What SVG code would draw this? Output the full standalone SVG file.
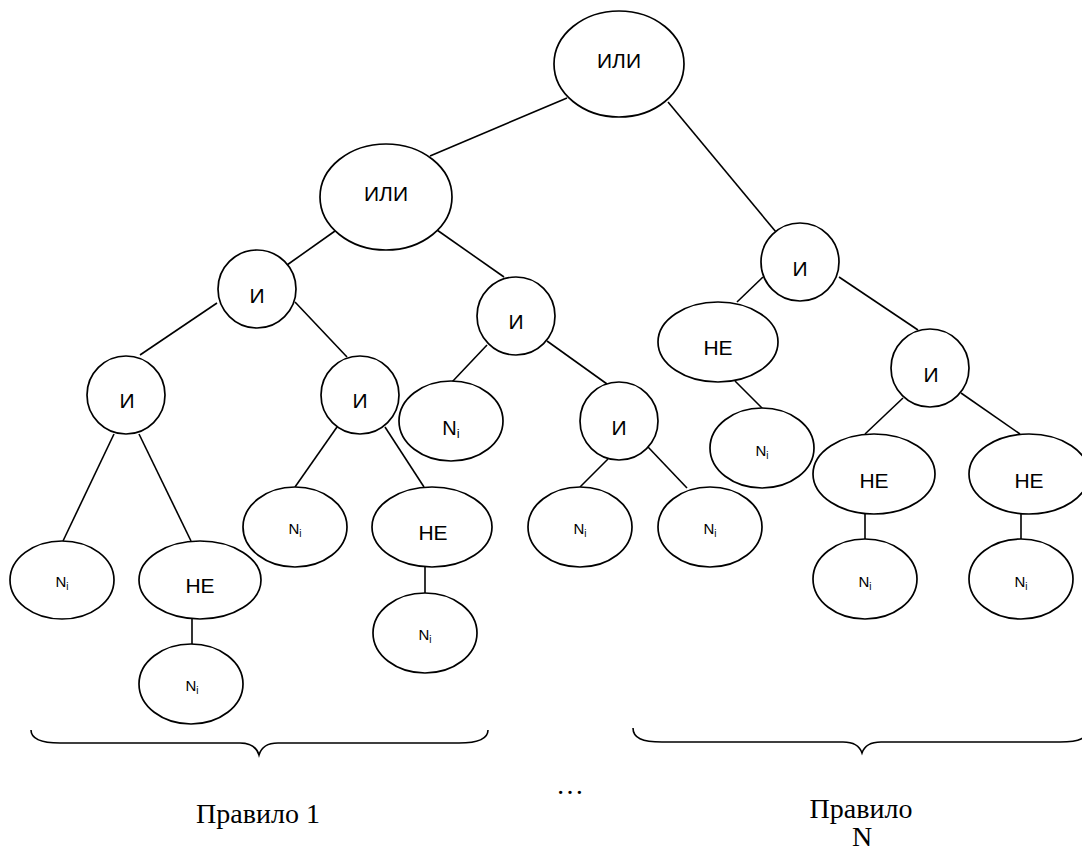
<svg xmlns="http://www.w3.org/2000/svg" width="1082" height="853" viewBox="0 0 1082 853">
<style>
.n{fill:#fff;stroke:#000;stroke-width:1.7}
.e line{stroke:#000;stroke-width:1.6}
.t{font-family:"Liberation Sans",Arial,sans-serif;font-size:21px;text-anchor:middle;fill:#000}
.s{font-family:"Liberation Sans",Arial,sans-serif;font-size:15px;text-anchor:middle;fill:#000}
.b{font-family:"Liberation Sans",Arial,sans-serif;font-size:20px;text-anchor:middle;fill:#000}
.r{font-family:"Liberation Serif","Times New Roman",serif;font-size:28px;text-anchor:middle;fill:#000}
.br{fill:none;stroke:#000;stroke-width:1.6}
</style>
<rect width="1082" height="853" fill="#fff"/>
<g id="connectors" class="e">
<line x1="567" y1="98" x2="430" y2="156"/>
<line x1="668" y1="102" x2="776" y2="232"/>
<line x1="335" y1="231" x2="287" y2="265"/>
<line x1="437" y1="230" x2="504" y2="277"/>
<line x1="217" y1="303" x2="140" y2="355"/>
<line x1="295" y1="302" x2="347" y2="357"/>
<line x1="114" y1="434" x2="63" y2="541"/>
<line x1="139" y1="434" x2="191" y2="541"/>
<line x1="192" y1="619" x2="192" y2="644"/>
<line x1="337" y1="427" x2="295" y2="487"/>
<line x1="385" y1="427" x2="424" y2="487"/>
<line x1="425" y1="567" x2="425" y2="593"/>
<line x1="487" y1="345" x2="452" y2="382"/>
<line x1="547" y1="341" x2="607" y2="384"/>
<line x1="608" y1="459" x2="580" y2="487"/>
<line x1="648" y1="447" x2="687" y2="488"/>
<line x1="763" y1="277" x2="737" y2="302"/>
<line x1="839" y1="277" x2="918" y2="330"/>
<line x1="735" y1="381" x2="762" y2="408"/>
<line x1="903" y1="398" x2="865" y2="434"/>
<line x1="961" y1="393" x2="1020" y2="434"/>
<line x1="865" y1="513" x2="865" y2="539"/>
<line x1="1021" y1="513" x2="1021" y2="539"/>
</g>
<g id="n1"><ellipse class="n" cx="619" cy="64" rx="65" ry="53"/><text class="t" x="619" y="68">ИЛИ</text></g>
<g id="n2"><ellipse class="n" cx="386" cy="197" rx="66" ry="53"/><text class="t" x="386" y="201">ИЛИ</text></g>
<g id="n3"><circle class="n" cx="257" cy="289" r="39"/><text class="t" x="257" y="303">И</text></g>
<g id="n4"><circle class="n" cx="516" cy="316" r="39"/><text class="t" x="516" y="329">И</text></g>
<g id="n5"><circle class="n" cx="800" cy="262" r="39"/><text class="t" x="800" y="276">И</text></g>
<g id="n6"><circle class="n" cx="126" cy="395" r="39"/><text class="t" x="127" y="408">И</text></g>
<g id="n7"><circle class="n" cx="360" cy="395" r="39"/><text class="t" x="360" y="408">И</text></g>
<g id="n8"><ellipse class="n" cx="451" cy="421" rx="52" ry="40"/><text class="b" x="451" y="435">N<tspan font-size="13" dy="3">i</tspan></text></g>
<g id="n9"><circle class="n" cx="619" cy="421" r="39"/><text class="t" x="619" y="435">И</text></g>
<g id="n10"><ellipse class="n" cx="718" cy="342" rx="60" ry="40"/><text class="t" x="718" y="355">НЕ</text></g>
<g id="n11"><circle class="n" cx="930" cy="368" r="39"/><text class="t" x="931" y="382">И</text></g>
<g id="n12"><ellipse class="n" cx="762" cy="448" rx="52" ry="40"/><text class="s" x="762" y="456">N<tspan font-size="10" dy="3">i</tspan></text></g>
<g id="n13"><ellipse class="n" cx="62" cy="580" rx="52" ry="39"/><text class="s" x="62" y="587">N<tspan font-size="10" dy="3">i</tspan></text></g>
<g id="n14"><ellipse class="n" cx="200" cy="580" rx="61" ry="39"/><text class="t" x="200" y="593">НЕ</text></g>
<g id="n15"><ellipse class="n" cx="191" cy="684" rx="52" ry="40"/><text class="s" x="192" y="691">N<tspan font-size="10" dy="3">i</tspan></text></g>
<g id="n16"><ellipse class="n" cx="295" cy="527" rx="52" ry="40"/><text class="s" x="295" y="534">N<tspan font-size="10" dy="3">i</tspan></text></g>
<g id="n17"><ellipse class="n" cx="432" cy="527" rx="60" ry="40"/><text class="t" x="433" y="540">НЕ</text></g>
<g id="n18"><ellipse class="n" cx="425" cy="633" rx="52" ry="40"/><text class="s" x="425" y="640">N<tspan font-size="10" dy="3">i</tspan></text></g>
<g id="n19"><ellipse class="n" cx="580" cy="527" rx="52" ry="40"/><text class="s" x="580" y="534">N<tspan font-size="10" dy="3">i</tspan></text></g>
<g id="n20"><ellipse class="n" cx="710" cy="527" rx="52" ry="40"/><text class="s" x="710" y="534">N<tspan font-size="10" dy="3">i</tspan></text></g>
<g id="n21"><ellipse class="n" cx="874" cy="474" rx="61" ry="40"/><text class="t" x="874" y="488">НЕ</text></g>
<g id="n22"><ellipse class="n" cx="1029" cy="474" rx="60" ry="40"/><text class="t" x="1029" y="488">НЕ</text></g>
<g id="n23"><ellipse class="n" cx="865" cy="579" rx="52" ry="40"/><text class="s" x="865" y="587">N<tspan font-size="10" dy="3">i</tspan></text></g>
<g id="n24"><ellipse class="n" cx="1021" cy="579" rx="52" ry="40"/><text class="s" x="1021" y="587">N<tspan font-size="10" dy="3">i</tspan></text></g>
<g id="braces">
<path class="br" d="M31,730 C31,739 40,743 60,743 L240,743 C252,743 257,748 259,755 C261,748 266,743 278,743 L459,743 C479,743 488,739 488,730"/>
<path class="br" d="M633,728 C633,738 642,742 662,742 L843,742 C855,742 860,747 862,753 C864,747 869,742 881,742 L1060,742 C1080,742 1088,738 1088,728"/>
</g>
<g id="labels">
<text class="r" x="258" y="823">Правило 1</text>
<text class="r" x="570" y="794" font-size="22">…</text>
<text class="r" x="861" y="818">Правило</text>
<text class="r" x="862" y="846">N</text>
</g>
</svg>
